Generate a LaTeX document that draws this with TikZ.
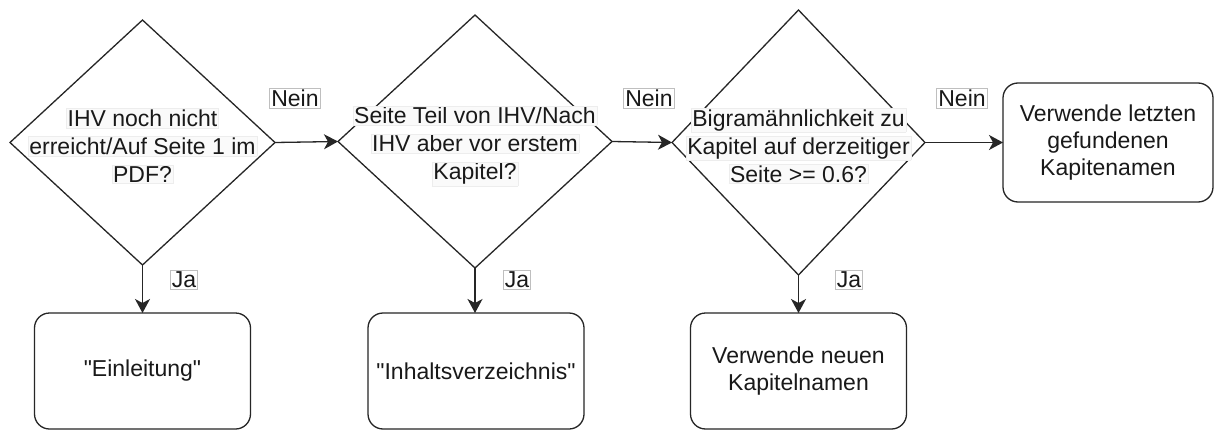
\documentclass[tikz,border=0pt]{standalone}
\usepackage{fontspec}
\setmainfont{Liberation Sans}[Ligatures=TeXOff]
\usetikzlibrary{shapes.geometric,arrows.meta}
\newcommand{\lbg}[1]{{\setlength{\fboxsep}{1pt}\setlength{\fboxrule}{0.5pt}\fcolorbox{black!7}{black!2}{#1}}}
\tikzset{
  dia/.style={draw=black!85, diamond, line width=1.3pt, inner sep=0pt, outer sep=0pt},
  dtext/.style={align=center, font=\fontsize{23}{28}\selectfont, inner sep=0pt, text=black!90},
  endbox/.style={draw=black!85, rounded corners=15pt, line width=1.3pt, minimum width=216pt, minimum height=116pt, align=center, font=\fontsize{23}{27}\selectfont, outer sep=0pt, text=black!90},
  lab/.style={draw=black!25, line width=0.8pt, fill=white, inner sep=1.5pt, font=\fontsize{23}{28}\selectfont, text=black!90},
  arr/.style={draw=black!85, line width=1.3pt, -{Stealth[length=14pt,width=15pt,inset=4pt]}}
}
\begin{document}
\begin{tikzpicture}[x=1pt,y=-1pt]
\useasboundingbox[fill=white] (0,0) rectangle (1216,431);
% diamonds
\node[dia, minimum width=265pt, minimum height=245pt] (d1) at (142.5,142.5) {};
\node[dia, minimum width=274pt, minimum height=253pt] (d2) at (475,141.5) {};
\node[dia, minimum width=253pt, minimum height=265pt] (d3) at (798.5,142.5) {};
\node[dtext] (t1) at (142.5,146) {\lbg{IHV noch nicht}\\\lbg{erreicht/Auf Seite 1 im}\\\lbg{PDF?}};
\node[dtext] (t2) at (475,146) {\lbg{Seite Teil von IHV/Nach}\\\lbg{IHV aber vor erstem}\\\lbg{Kapitel?}};
\node[dtext] (t3) at (798.5,146) {\lbg{Bigramähnlichkeit zu}\\\lbg{Kapitel auf derzeitiger}\\\lbg{Seite >= 0.6?}};
% boxes
\node[endbox] (b1) at (142.5,371) {"Einleitung"};
\node[endbox] (b2) at (476,371) {"Inhaltsverzeichnis"};
\node[endbox] (b3) at (798.5,371) {Verwende neuen\\Kapitelnamen};
\node[endbox, minimum width=210pt, minimum height=119pt] (r4) at (1108,142.5) {Verwende letzten\\gefundenen\\Kapitenamen};
% connectors
\draw[arr] (d1.east) -- (d2.west);
\draw[arr] (d2.east) -- (d3.west);
\draw[arr] (d3.east) -- (r4.west);
\draw[arr] (d1.south) -- (b1.north);
\draw[arr] (d2.south) -- (d2.south |- b2.north);
\draw[arr] (d3.south) -- (b3.north);
% labels
\node[lab] (n1) at (295,98) {Nein};
\node[lab] (n2) at (649,98) {Nein};
\node[lab] (n3) at (962,98) {Nein};
\node[lab] (j1) at (184,280) {Ja};
\node[lab] (j2) at (517,280) {Ja};
\node[lab] (j3) at (849,280) {Ja};
\end{tikzpicture}
\end{document}
